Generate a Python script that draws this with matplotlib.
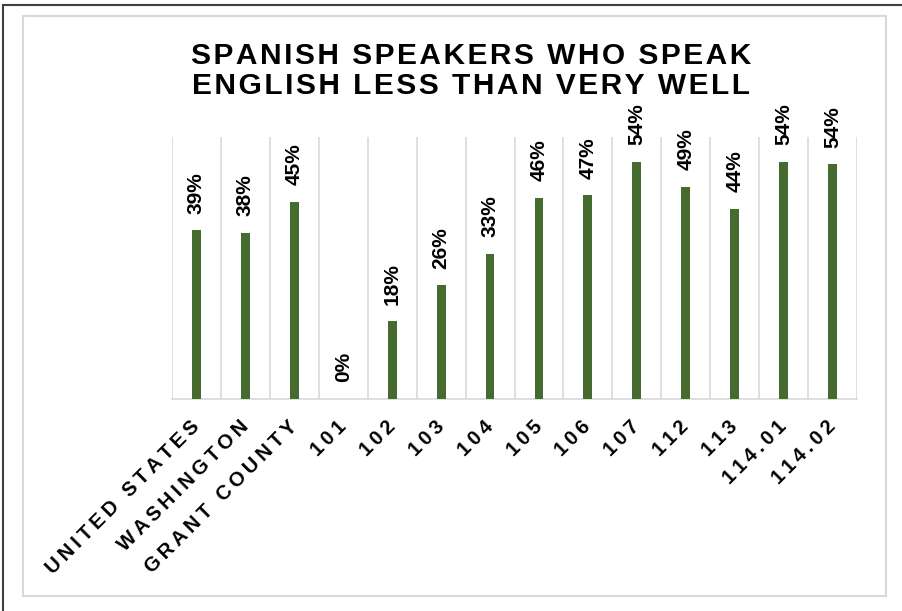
import matplotlib
matplotlib.use("Agg")
from matplotlib import pyplot as plt
from matplotlib.patches import Rectangle

categories = ["UNITED STATES", "WASHINGTON", "GRANT COUNTY", "101", "102", "103", "104",
              "105", "106", "107", "112", "113", "114.01", "114.02"]
shares = [38.6, 38.0, 45.2, 0.0, 17.8, 26.0, 33.2, 46.0, 46.6, 54.3, 48.6, 43.6, 54.3, 53.7]
title = "SPANISH SPEAKERS WHO SPEAK\nENGLISH LESS THAN VERY WELL"

plt.rcParams['font.family'] = ['Liberation Sans', 'DejaVu Sans']


def spaced(text, gap='\u200a'):
    # rough letter spacing like the original chart
    return '\n'.join(gap.join(line) for line in text.split('\n'))


fig = plt.figure(figsize=(9.02, 6.11), dpi=100)
ax = fig.add_axes([0.1907, 0.347, 0.7594, 0.4288])

x = list(range(len(categories)))
ax.bar(x, shares, width=0.18, color='#466b2e', zorder=3)
ax.set_xlim(-0.5, len(categories) - 0.5)
ax.set_ylim(0, 60)

# vertical separators between categories
for b in range(len(categories) + 1):
    ax.axvline(b - 0.5, color='#d9d9d9', linewidth=1.2, zorder=1)

for xi, v in zip(x, shares):
    ax.annotate(f"{round(v)}%", (xi, v), xytext=(0, 12), textcoords='offset points',
                rotation=90, ha='center', va='bottom', fontsize=15, fontweight='bold')

for s in ['top', 'right', 'left']:
    ax.spines[s].set_visible(False)
ax.spines['bottom'].set_color('#d9d9d9')
ax.spines['bottom'].set_linewidth(1.2)
ax.set_yticks([])
ax.set_xticks(x)
ax.set_xticklabels([spaced(c, '\u2009') for c in categories], rotation=45, ha='right',
                   va='center', rotation_mode='anchor', fontsize=14.5, fontweight='bold')
ax.tick_params(axis='x', length=0, pad=18)

fig.text(471 / 902, 1 - 71 / 611, spaced(title), ha='center', va='center',
         fontsize=21.5, fontweight='bold', linespacing=1.1)

# chart area border and outer frame
fig.patches.append(Rectangle((23 / 902, 1 - 596 / 611), 863 / 902, 580 / 611, transform=fig.transFigure,
                             fill=False, edgecolor='#d9d9d9', linewidth=1.5))
fig.add_artist(plt.Line2D([3 / 902, 3 / 902], [0, 1 - 5 / 611], color='#404040', linewidth=1.5))
fig.add_artist(plt.Line2D([3 / 902, 1], [1 - 5 / 611, 1 - 5 / 611], color='#404040', linewidth=1.5))

fig.savefig("out.png", dpi=100)
